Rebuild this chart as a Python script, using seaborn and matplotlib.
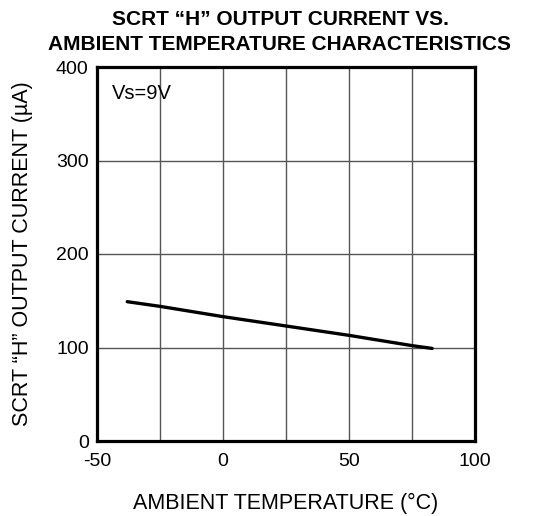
import matplotlib
matplotlib.use("Agg")
import matplotlib.pyplot as plt
import seaborn as sns
import pandas as pd

# Output current vs ambient temperature (Vs = 9 V)
temperature_c = [-38, -25, 0, 25, 50, 75, 83]
current_ua = [149, 144, 133, 123, 113, 102, 99]

x_ticks = [-50, 0, 50, 100]
y_ticks = [0, 100, 200, 300, 400]
x_grid = [-25, 0, 25, 50, 75]

sns.set_theme(style="white")
plt.rcParams["font.family"] = ["Liberation Sans", "DejaVu Sans"]
plt.rcParams["axes.unicode_minus"] = False
plt.rcParams["text.color"] = "black"

df = pd.DataFrame({"temp": temperature_c, "current": current_ua})

W, H = 534, 516
fig = plt.figure(figsize=(W / 100, H / 100), dpi=100)
left, right, top, bottom = 97, 475, 67, 441
ax = fig.add_axes([left / W, 1 - bottom / H, (right - left) / W, (bottom - top) / H])

for xv in x_grid:
    ax.axvline(xv, color="#555555", lw=1.0, zorder=1)
for yv in y_ticks[1:-1]:
    ax.axhline(yv, color="#555555", lw=1.0, zorder=1)

sns.lineplot(data=df, x="temp", y="current", ax=ax, color="black",
             lw=2.4, zorder=3)

ax.set_xlim(-50, 100)
ax.set_ylim(0, 400)
ax.set_xticks(x_ticks)
ax.set_yticks(y_ticks)
ax.tick_params(axis="x", length=0, labelsize=14, labelcolor="black", pad=9)
ax.tick_params(axis="y", length=0, labelsize=14, labelcolor="black", pad=6)
for s in ax.spines.values():
    s.set_color("black")
    s.set_linewidth(2.3)
    s.set_visible(True)
ax.set_xlabel("")
ax.set_ylabel("")

fig.text(286 / W, 1 - 503 / H, "AMBIENT TEMPERATURE (°C)", fontsize=15.5,
         color="black", ha="center", va="center")
fig.text(23 / W, 1 - 254 / H, "SCRT “H” OUTPUT CURRENT (µA)", fontsize=15.5,
         color="black", ha="center", va="center", rotation=90)
fig.text(280 / W, 1 - 32 / H,
         "SCRT “H” OUTPUT CURRENT VS.\nAMBIENT TEMPERATURE CHARACTERISTICS",
         fontsize=15, fontweight="bold", color="black", ha="center",
         va="center", linespacing=1.4)

ax.text(0.04, 0.955, "Vs=9V", transform=ax.transAxes, fontsize=14.5,
        color="black", va="top", ha="left")

fig.savefig("out.png", dpi=100)
